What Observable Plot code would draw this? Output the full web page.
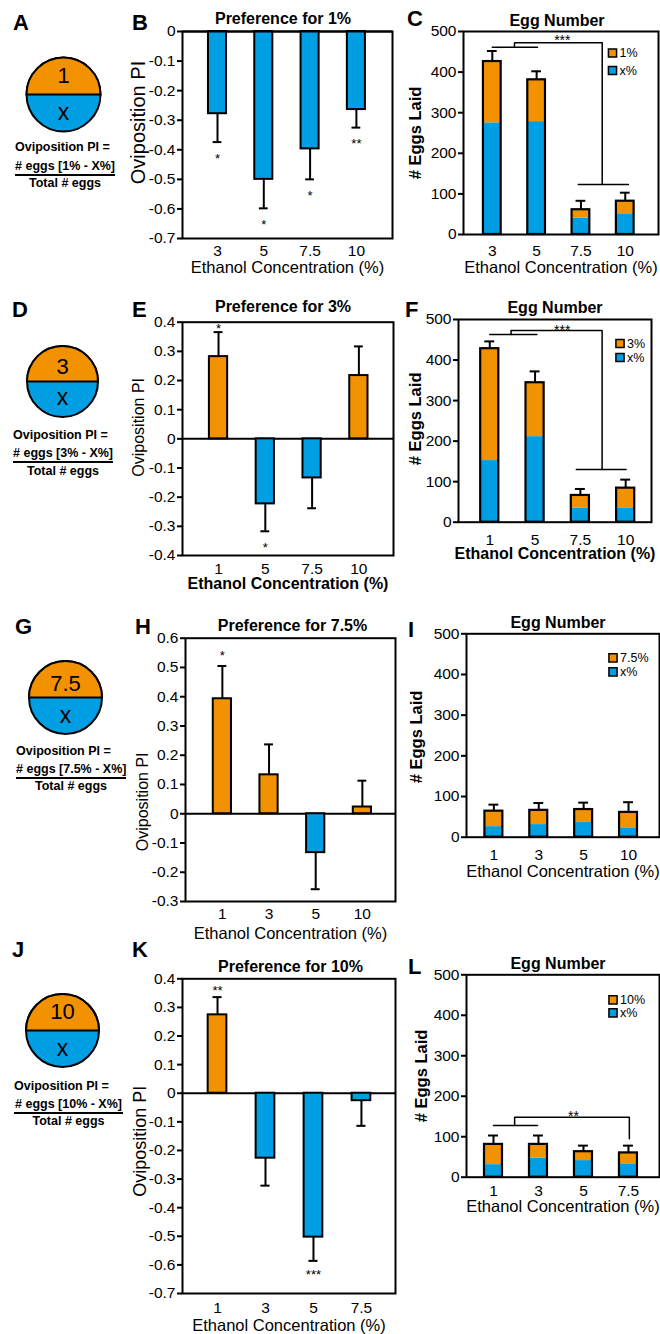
<!DOCTYPE html>
<html><head><meta charset="utf-8">
<script src="https://cdn.jsdelivr.net/npm/d3@7"></script>
<script src="https://cdn.jsdelivr.net/npm/@observablehq/plot@0.6"></script>
<style>
html,body{margin:0;padding:0;background:#fff;}
#fig{position:relative;width:660px;height:1334px;overflow:hidden;font-family:"Liberation Sans",Arial,Helvetica,sans-serif;color:#000;}
.t{position:absolute;line-height:1;white-space:nowrap;}
</style></head><body><div id="fig"></div>
<script>
const ORANGE = "#F39200", BLUE = "#009FE3";
const FONT = '"Liberation Sans", Arial, Helvetica, sans-serif';

// ---- Preference index panels (B, E, H, K)
const catsB = ["3", "5", "7.5", "10"];
const piB = [-0.278, -0.500, -0.397, -0.264];
const errB = [-0.374, -0.598, -0.500, -0.325];
const sigB = ["*", "*", "*", "**"];
const ticksB = [0, -0.1, -0.2, -0.3, -0.4, -0.5, -0.6, -0.7];

const catsE = ["1", "5", "7.5", "10"];
const piE = [0.282, -0.223, -0.134, 0.217];
const errE = [0.366, -0.317, -0.238, 0.317];
const sigE = ["*", "*", "", ""];
const ticksE = [0.4, 0.3, 0.2, 0.1, 0, -0.1, -0.2, -0.3, -0.4];

const catsH = ["1", "3", "5", "10"];
const piH = [0.393, 0.133, -0.133, 0.023];
const errH = [0.505, 0.237, -0.258, 0.113];
const sigH = ["*", "", "", ""];
const ticksH = [0.6, 0.5, 0.4, 0.3, 0.2, 0.1, 0, -0.1, -0.2, -0.3];

const catsK = ["1", "3", "5", "7.5"];
const piK = [0.274, -0.227, -0.503, -0.026];
const errK = [0.336, -0.323, -0.586, -0.114];
const sigK = ["**", "", "***", ""];
const ticksK = [0.4, 0.3, 0.2, 0.1, 0, -0.1, -0.2, -0.3, -0.4, -0.5, -0.6, -0.7];

// ---- Egg number panels (C, F, I, L): total eggs, eggs on x% side, error top
const catsC = ["3", "5", "7.5", "10"];
const totalC = [426, 381, 61, 82];
const xC = [275, 278, 40, 51];
const errC = [452, 402, 83, 103];

const catsF = ["1", "5", "7.5", "10"];
const totalF = [428, 344, 66, 84];
const xF = [152, 211, 35, 34];
const errF = [446, 372, 82, 105];

const catsI = ["1", "3", "5", "10"];
const totalI = [64, 66, 68, 61];
const xI = [26, 31, 36, 23];
const errI = [80, 84, 85, 86];

const catsL = ["1", "3", "5", "7.5"];
const totalL = [81, 81, 63, 60];
const xL = [31, 47, 41, 33];
const errL = [103, 103, 78, 78];

const ticksEgg = [0, 100, 200, 300, 400, 500];

// significance brackets: segments of [category index, eggs]
const bracketC = [[[0, 461], [1.02, 461]], [[0.5, 461], [0.5, 472], [2.48, 472], [2.48, 123]], [[1.94, 123], [3.07, 123]]];
const bracketF = [[[0, 463], [1.04, 463]], [[0.47, 463], [0.47, 473], [2.48, 473], [2.48, 130]], [[1.91, 130], [3.01, 130]]];
const bracketL = [[[0, 128], [0.98, 128]], [[0.47, 128], [0.47, 148], [3.02, 148], [3.02, 95]]];
const starC = [{x: 1.58, y: 472, s: "***"}];
const starF = [{x: 1.6, y: 473, s: "***"}];
const starL = [{x: 1.78, y: 148, s: "**"}];

const fig = document.getElementById("fig");
const fmtPI = d => String(Math.round(d * 10) / 10);
const MID = {textAnchor: "middle", lineAnchor: "middle"};

function place(el, left, top) {
  el.style.position = "absolute";
  el.style.left = left + "px";
  el.style.top = top + "px";
  fig.appendChild(el);
}
function margins(o) {
  return {
    marginLeft: o.frame[0] - o.left,
    marginRight: o.left + o.width - o.frame[1],
    marginTop: o.frame[2] - o.top,
    marginBottom: o.top + o.height - o.frame[3]
  };
}
const baseStyle = {fontFamily: FONT, fontSize: "15.5px", color: "#000", background: "transparent", overflow: "visible"};

function piPanel(o) {
  const data = o.cats.map((c, i) => ({i, c, v: o.vals[i], e: o.errs[i], s: o.sig[i]}));
  const hw = 0.195, cw = 0.095;
  const p = Plot.plot({
    width: o.width, height: o.height, ...margins(o),
    style: baseStyle,
    x: {domain: o.xDomain},
    y: {domain: o.yDomain},
    marks: [
      Plot.ruleY([0], {stroke: "#000", strokeWidth: 2}),
      Plot.ruleX(data, {x: "i", y1: "v", y2: "e", stroke: "#000", strokeWidth: 2}),
      Plot.ruleY(data, {y: "e", x1: d => d.i - cw, x2: d => d.i + cw, stroke: "#000", strokeWidth: 2}),
      Plot.rect(data.filter(d => d.v >= 0), {x1: d => d.i - hw, x2: d => d.i + hw, y1: () => 0, y2: "v", fill: ORANGE, stroke: "#000", strokeWidth: 2}),
      Plot.rect(data.filter(d => d.v < 0), {x1: d => d.i - hw, x2: d => d.i + hw, y1: () => 0, y2: "v", fill: BLUE, stroke: "#000", strokeWidth: 2}),
      Plot.text(data.filter(d => d.s && d.e < 0), {x: "i", y: "e", text: "s", dy: o.sigBelow, fontSize: 13}),
      Plot.text(data.filter(d => d.s && d.e > 0), {x: "i", y: "e", text: "s", dy: o.sigAbove, fontSize: 13}),
      Plot.axisY({ticks: o.yTicks, tickSize: 5, tickPadding: 2, tickFormat: fmtPI, strokeWidth: 2, label: null, fontSize: 15.5}),
      Plot.axisX({ticks: data.map(d => d.i), tickSize: 0, tickPadding: o.tickPad, tickFormat: i => o.cats[i], label: null, fontSize: 15.5}),
      Plot.frame({stroke: "#000", strokeWidth: 2}),
      Plot.text([o.title], {...MID, text: d => d, frameAnchor: "top", dx: o.titleDx, dy: o.titleDy, fontWeight: "bold", fontSize: 16}),
      Plot.text(["Ethanol Concentration (%)"], {...MID, text: d => d, frameAnchor: "bottom", dy: o.xtDy, fontWeight: o.xtBold ? "bold" : "normal", fontSize: o.xtBold ? 16 : 16.5}),
      Plot.text(["Oviposition PI"], {...MID, text: d => d, frameAnchor: "left", rotate: -90, dx: o.ylDx, dy: o.ylDy, fontSize: o.ylFs})
    ]
  });
  place(p, o.left, o.top);
}

function eggPanel(o) {
  const data = o.cats.map((c, i) => ({i, c, t: o.totals[i], b: o.xs[i], e: o.errs[i]}));
  const hw = 0.2, cw = 0.11;
  const br = o.bracket.flatMap((seg, k) => seg.map(([x, y]) => ({k, x, y})));
  const p = Plot.plot({
    width: o.width, height: o.height, ...margins(o),
    style: baseStyle,
    x: {domain: o.xDomain},
    y: {domain: [0, 500]},
    marks: [
      Plot.ruleX(data, {x: "i", y1: "t", y2: "e", stroke: "#000", strokeWidth: 2}),
      Plot.ruleY(data, {y: "e", x1: d => d.i - cw, x2: d => d.i + cw, stroke: "#000", strokeWidth: 2}),
      Plot.rect(data, {x1: d => d.i - hw, x2: d => d.i + hw, y1: () => 0, y2: "b", fill: BLUE}),
      Plot.rect(data, {x1: d => d.i - hw, x2: d => d.i + hw, y1: "b", y2: "t", fill: ORANGE}),
      Plot.rect(data, {x1: d => d.i - hw, x2: d => d.i + hw, y1: () => 0, y2: "t", fill: "none", stroke: "#000", strokeWidth: 2.2}),
      Plot.line(br, {x: "x", y: "y", z: "k", stroke: "#000", strokeWidth: 1.5}),
      Plot.text(o.star, {x: "x", y: "y", text: "s", dy: o.starDy, fontSize: 14}),
      Plot.axisY({ticks: ticksEgg, tickSize: 5, tickPadding: 2, tickFormat: d => String(d), strokeWidth: 2, label: null, fontSize: 15.5}),
      Plot.axisX({ticks: data.map(d => d.i), tickSize: 0, tickPadding: o.tickPad, tickFormat: i => o.cats[i], label: null, fontSize: 15.5}),
      Plot.frame({stroke: "#000", strokeWidth: 2}),
      Plot.dot([0], {frameAnchor: "top-right", dx: o.legDx, dy: o.legDy[0], r: 4.6, symbol: "square", fill: ORANGE, stroke: "#000", strokeWidth: 1.5}),
      Plot.dot([0], {frameAnchor: "top-right", dx: o.legDx, dy: o.legDy[1], r: 4.6, symbol: "square", fill: BLUE, stroke: "#000", strokeWidth: 1.5}),
      Plot.text([o.legend], {text: d => d, frameAnchor: "top-right", textAnchor: "start", lineAnchor: "middle", dx: o.legDx + 7, dy: o.legDy[0], fontSize: 12.5}),
      Plot.text(["x%"], {text: d => d, frameAnchor: "top-right", textAnchor: "start", lineAnchor: "middle", dx: o.legDx + 7, dy: o.legDy[1], fontSize: 12.5}),
      Plot.text(["Egg Number"], {...MID, text: d => d, frameAnchor: "top", dx: o.titleDx, dy: o.titleDy, fontWeight: "bold", fontSize: 16}),
      Plot.text(["Ethanol Concentration (%)"], {...MID, text: d => d, frameAnchor: "bottom", dy: o.xtDy, fontWeight: o.xtBold ? "bold" : "normal", fontSize: o.xtBold ? 16 : 16.5}),
      Plot.text(["# Eggs Laid"], {...MID, text: d => d, frameAnchor: "left", rotate: -90, dx: o.ylDx, dy: o.ylDy, fontWeight: "bold", fontSize: 16.5})
    ]
  });
  place(p, o.left, o.top);
}

// half-disc symbol (upper half) for the two-choice schematic
const halfTop = {
  draw(ctx, size) {
    const r = Math.sqrt(size / Math.PI);
    ctx.moveTo(r, 0);
    ctx.arc(0, 0, r, 0, Math.PI, true);
    ctx.closePath();
  }
};

function schematic(o) {
  const S = 100;
  const p = Plot.plot({
    width: S, height: S, margin: 0, style: {...baseStyle},
    marks: [
      Plot.dot([0], {frameAnchor: "middle", r: o.r, symbol: "circle", fill: BLUE, stroke: "#000", strokeWidth: 2}),
      Plot.dot([0], {frameAnchor: "middle", r: o.r, symbol: halfTop, fill: ORANGE, stroke: "#000", strokeWidth: 2}),
      Plot.text([o.num], {...MID, text: d => d, frameAnchor: "middle", dy: o.numDy, fontSize: 22}),
      Plot.text(["x"], {...MID, text: d => d, frameAnchor: "middle", dy: o.xDy, fontSize: 23})
    ]
  });
  place(p, o.cx - S / 2, o.cy - S / 2);
  const fs = 12.5;
  const t1 = document.createElement("div");
  t1.className = "t"; t1.style.fontWeight = "bold"; t1.style.fontSize = fs + "px";
  t1.textContent = "Oviposition PI =";
  place(t1, o.fx1, o.ty[0] - 0.49 * fs);
  const t2 = document.createElement("div");
  t2.className = "t"; t2.style.fontWeight = "bold"; t2.style.fontSize = fs + "px";
  t2.style.width = (o.fx2 - o.fx1) + "px"; t2.style.textAlign = "center";
  t2.textContent = "# eggs [" + o.num + "% - X%]";
  place(t2, o.fx1, o.ty[1] - 0.49 * fs);
  const ln = document.createElement("div");
  ln.style.width = (o.fx2 - o.fx1) + "px"; ln.style.height = "2px"; ln.style.background = "#000";
  place(ln, o.fx1, o.ty[2] - 1);
  const t3 = document.createElement("div");
  t3.className = "t"; t3.style.fontWeight = "bold"; t3.style.fontSize = fs + "px";
  t3.style.width = (o.fx2 - o.fx1) + "px"; t3.style.textAlign = "center";
  t3.textContent = "Total # eggs";
  place(t3, o.fx1, o.ty[3] - 0.49 * fs);
}

function letter(ch, x, cy) {
  const d = document.createElement("div");
  d.className = "t"; d.style.fontWeight = "bold"; d.style.fontSize = "22px";
  d.textContent = ch;
  place(d, x, cy - 0.4885 * 22);
}

// ---- build
schematic({cx: 63, cy: 93.5, r: 37, num: "1", numDy: -18.5, xDy: 18, fx1: 15, fx2: 115, ty: [146.7, 165.7, 175, 183.3]});
schematic({cx: 62, cy: 381, r: 35.5, num: "3", numDy: -14.5, xDy: 16, fx1: 13, fx2: 113, ty: [435, 453, 462, 470.7]});
schematic({cx: 65, cy: 696.7, r: 36.5, num: "7.5", numDy: -14, xDy: 18, fx1: 16, fx2: 126, ty: [750.7, 769, 777.7, 786]});
schematic({cx: 62, cy: 1029.5, r: 36.5, num: "10", numDy: -18.5, xDy: 18.5, fx1: 14, fx2: 123, ty: [1086, 1104, 1112.5, 1121]});

piPanel({left: 120, top: 0, width: 280, height: 280, frame: [182, 392, 31, 238],
  cats: catsB, vals: piB, errs: errB, sig: sigB, yDomain: [-0.7, 0], yTicks: ticksB, xDomain: [-0.756, 3.78],
  title: "Preference for 1%", titleDx: -4.5, titleDy: -12.7, xtDy: 29, xtBold: false, tickPad: 6,
  ylDx: -44, ylDy: -12.5, ylFs: 20, sigBelow: 16.5, sigAbove: -4});
piPanel({left: 120, top: 290, width: 280, height: 310, frame: [182, 393, 321.7, 555],
  cats: catsE, vals: piE, errs: errE, sig: sigE, yDomain: [-0.4, 0.4], yTicks: ticksE, xDomain: [-0.77, 3.74],
  title: "Preference for 3%", titleDx: -5, titleDy: -15, xtDy: 28, xtBold: true, tickPad: 7,
  ylDx: -44, ylDy: -11.5, ylFs: 16, sigBelow: 17, sigAbove: -3.2});
piPanel({left: 120, top: 605, width: 280, height: 340, frame: [185, 395, 637.7, 901],
  cats: catsH, vals: piH, errs: errH, sig: sigH, yDomain: [-0.3, 0.6], yTicks: ticksH, xDomain: [-0.79, 3.71],
  title: "Preference for 7.5%", titleDx: 2, titleDy: -12, xtDy: 32, xtBold: false, tickPad: 6,
  ylDx: -43, ylDy: 32, ylFs: 16, sigBelow: 16, sigAbove: -10.2});
piPanel({left: 120, top: 945, width: 280, height: 389, frame: [182, 395, 978.3, 1293],
  cats: catsK, vals: piK, errs: errK, sig: sigK, yDomain: [-0.7, 0.4], yTicks: ticksK, xDomain: [-0.73, 3.71],
  title: "Preference for 10%", titleDx: 1.5, titleDy: -11.6, xtDy: 32, xtBold: false, tickPad: 8,
  ylDx: -42, ylDy: 5, ylFs: 18, sigBelow: 14, sigAbove: -6.2});

eggPanel({left: 400, top: 0, width: 260, height: 280, frame: [463, 658, 31, 234],
  cats: catsC, totals: totalC, xs: xC, errs: errC, xDomain: [-0.65, 3.75], bracket: bracketC, star: starC, starDy: -2,
  legend: "1%", legDx: -46, legDy: [21.5, 39], titleDx: -4, titleDy: -11, xtDy: 33, xtBold: false, tickPad: 10, ylDx: -48, ylDy: 0});
eggPanel({left: 400, top: 290, width: 260, height: 280, frame: [458, 651, 319, 521.7],
  cats: catsF, totals: totalF, xs: xF, errs: errF, xDomain: [-0.69, 3.57], bracket: bracketF, star: starF, starDy: 0,
  legend: "3%", legDx: -31.5, legDy: [24, 38], titleDx: 0, titleDy: -12, xtDy: 32, xtBold: true, tickPad: 11.5, ylDx: -43, ylDy: -2});
eggPanel({left: 400, top: 605, width: 260, height: 285, frame: [466, 659, 633.3, 836.7],
  cats: catsI, totals: totalI, xs: xI, errs: errI, xDomain: [-0.61, 3.69], bracket: [], star: [], starDy: 0,
  legend: "7.5%", legDx: -46.5, legDy: [24, 38], titleDx: -5, titleDy: -11.3, xtDy: 34.5, xtBold: false, tickPad: 11.5, ylDx: -49.3, ylDy: 1.5});
eggPanel({left: 400, top: 945, width: 260, height: 275, frame: [466, 659, 974.3, 1176.7],
  cats: catsL, totals: totalL, xs: xL, errs: errL, xDomain: [-0.6, 3.69], bracket: bracketL, star: starL, starDy: -0.5,
  legend: "10%", legDx: -46.5, legDy: [25, 38], titleDx: -5, titleDy: -11, xtDy: 30, xtBold: false, tickPad: 8, ylDx: -44.3, ylDy: 0});

letter("A", 13, 23); letter("B", 132, 23); letter("C", 407, 19);
letter("D", 12, 310); letter("E", 132, 310); letter("F", 405, 310);
letter("G", 15, 627); letter("H", 135, 627); letter("I", 408, 629.5);
letter("J", 12, 950); letter("K", 132, 950); letter("L", 408, 967);
</script></body></html>
